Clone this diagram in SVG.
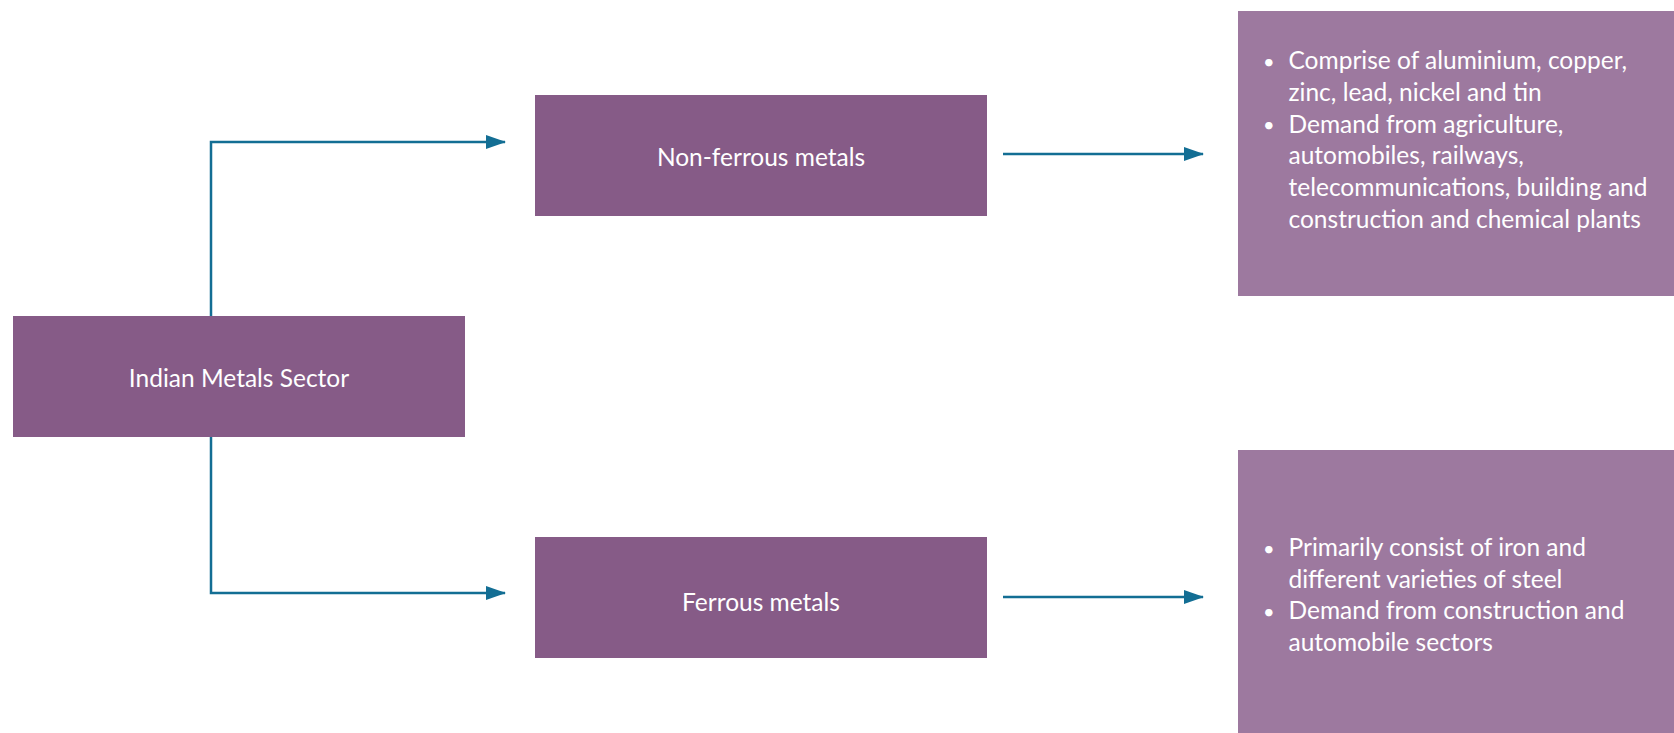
<svg xmlns="http://www.w3.org/2000/svg" width="1674" height="733" viewBox="0 0 1674 733">
  <defs>
    <marker id="arrow" viewBox="0 0 20 14" refX="19" refY="7" markerWidth="20" markerHeight="14" markerUnits="userSpaceOnUse" orient="auto">
      <path d="M0,0 L20,7 L0,14 z" fill="#136E94"/>
    </marker>
    <style>
      .node { fill: #865B87; }
      .info { fill: #9D799F; }
      .label { font-family: Lato, "Open Sans", sans-serif; font-size: 24.5px; fill: #ffffff; text-anchor: middle; }
      .body { font-family: Lato, "Open Sans", sans-serif; font-size: 24.5px; fill: #ffffff; }
      .dot { font-size: 20px; }
      .edge { fill: none; stroke: #136E94; stroke-width: 2.5; marker-end: url(#arrow); }
    </style>
  </defs>
  <rect width="1674" height="733" fill="#ffffff"/>

  <g id="connectors">
    <path class="edge" d="M211,316 V142 H505"/>
    <path class="edge" d="M211,437 V593 H505"/>
    <path class="edge" d="M1003,154 H1203"/>
    <path class="edge" d="M1003,597 H1203"/>
  </g>

  <g id="indian-metals-sector">
    <rect class="node" x="13" y="316" width="452" height="121"/>
    <text class="label" x="239" y="387">Indian Metals Sector</text>
  </g>

  <g id="non-ferrous-metals">
    <rect class="node" x="535" y="95" width="452" height="121"/>
    <text class="label" x="761" y="166">Non-ferrous metals</text>
  </g>

  <g id="ferrous-metals">
    <rect class="node" x="535" y="537" width="452" height="121"/>
    <text class="label" x="761" y="611">Ferrous metals</text>
  </g>

  <g id="non-ferrous-details">
    <rect class="info" x="1238" y="11" width="436" height="285"/>
    <text class="body">
      <tspan class="dot" x="1263" y="68.5">•</tspan><tspan x="1288.5" y="69">Comprise of aluminium, copper,</tspan>
      <tspan x="1288.5" y="100.8">zinc, lead, nickel and tin</tspan>
      <tspan class="dot" x="1263" y="132">•</tspan><tspan x="1288.5" y="132.6">Demand from agriculture,</tspan>
      <tspan x="1288.5" y="164.4">automobiles, railways,</tspan>
      <tspan x="1288.5" y="196.2">telecommunications, building and</tspan>
      <tspan x="1288.5" y="228">construction and chemical plants</tspan>
    </text>
  </g>

  <g id="ferrous-details">
    <rect class="info" x="1238" y="450" width="436" height="283"/>
    <text class="body">
      <tspan class="dot" x="1263" y="555.5">•</tspan><tspan x="1288.5" y="556">Primarily consist of iron and</tspan>
      <tspan x="1288.5" y="587.6">different varieties of steel</tspan>
      <tspan class="dot" x="1263" y="619">•</tspan><tspan x="1288.5" y="619.4">Demand from construction and</tspan>
      <tspan x="1288.5" y="651">automobile sectors</tspan>
    </text>
  </g>
</svg>
